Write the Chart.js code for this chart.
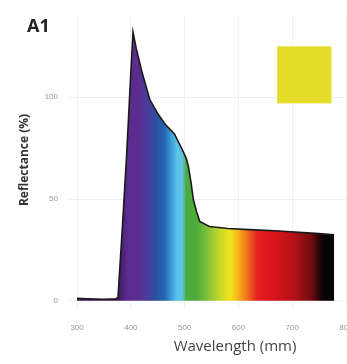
<!DOCTYPE html>
<html>
<head>
<meta charset="utf-8">
<script src="https://cdn.jsdelivr.net/npm/chart.js@4"></script>
<style>
  html, body { margin: 0; padding: 0; background: #fff; }
  #wrap { width: 347px; height: 364px; }
</style>
</head>
<body>
<div id="wrap"><canvas id="myChart" width="347" height="364"></canvas></div>
<script>
"use strict";

// spectrum
const wavelengths = [300, 320, 350, 372, 376, 384, 392, 398, 404, 410, 420, 435, 450, 463, 481, 496, 503, 507, 512, 516, 522, 528, 546, 580, 620, 676, 720, 750, 778];
const reflectance = [1.2, 1.0, 0.8, 1.0, 1.5, 35, 71, 102, 132, 124, 113, 99, 92, 87, 82, 74, 70, 66, 58, 50, 44, 39, 36.5, 35.5, 35, 34.3, 33.5, 33, 32.5];
const xTicks = [300, 400, 500, 600, 700, 800];
const yTicks = [0, 50, 100];

// colour of the fill per wavelength
const stopNm = [376, 392, 412, 432, 445, 462, 474, 486, 496, 503, 524, 546, 566, 585, 600, 615, 635, 670, 705, 735, 752, 762];
const stopColors = ["#3b1a5c", "#5a2a8c", "#5e2c90", "#4a3c9c", "#2d4ea0", "#2363b0", "#3a98d4", "#5ac4ec", "#62c4dc", "#4aaa3c", "#4fae38", "#8cc43a", "#c9d82a", "#f1e31a", "#f6b21a", "#f0781c", "#e61e1e", "#d6141a", "#b01218", "#720c0e", "#220404", "#050505"];

// swatch in the top right corner
const swatchNm = [672, 773];
const swatchPct = [97, 125];
const swatchColor = "#e6dc2a";

const data = wavelengths.map((w, i) => ({ x: w, y: reflectance[i] }));

function spectrumFill(context) {
  const chart = context.chart;
  const area = chart.chartArea;
  if (!area) return "#5e2c90";
  const xs = chart.scales.x;
  const x0 = xs.getPixelForValue(300);
  const x1 = xs.getPixelForValue(800);
  const g = chart.ctx.createLinearGradient(x0, 0, x1, 0);
  stopNm.forEach((nm, i) => {
    g.addColorStop((nm - 300) / 500, stopColors[i]);
  });
  return g;
}

const decorations = {
  id: "decorations",
  beforeDatasetsDraw(chart) {
    const ctx = chart.ctx;
    const xs = chart.scales.x, ys = chart.scales.y;
    const l = xs.getPixelForValue(swatchNm[0]), r = xs.getPixelForValue(swatchNm[1]);
    const t = ys.getPixelForValue(swatchPct[1]), b = ys.getPixelForValue(swatchPct[0]);
    ctx.save();
    ctx.fillStyle = swatchColor;
    ctx.fillRect(l, t, r - l, b - t);
    ctx.restore();
  },
  afterDraw(chart) {
    const ctx = chart.ctx;
    ctx.save();
    ctx.fillStyle = "#222";
    ctx.font = "bold 18px 'Open Sans', sans-serif";
    ctx.textBaseline = "middle";
    ctx.textAlign = "left";
    ctx.fillText("A1", 27, 27);

    ctx.fillStyle = "#444";
    ctx.font = "15px 'Open Sans', sans-serif";
    ctx.textAlign = "center";
    ctx.fillText("Wavelength (mm)", 235, 347);

    ctx.translate(25, 160);
    ctx.rotate(-Math.PI / 2);
    ctx.fillStyle = "#333";
    ctx.font = "bold 12px 'Open Sans', sans-serif";
    ctx.fillText("Reflectance (%)", 0, 0);
    ctx.restore();
  }
};

const ctx = document.getElementById("myChart").getContext("2d");
const myChart = new Chart(ctx, {
  type: "line",
  data: {
    datasets: [
      {
        label: "A1",
        data: data,
        borderColor: "#1a1a1a",
        borderWidth: 1.6,
        backgroundColor: spectrumFill,
        fill: "origin",
        pointRadius: 0,
        tension: 0,
      },
    ],
  },
  options: {
    responsive: false,
    animation: false,
    layout: { padding: { top: 11, right: 1, left: 0, bottom: 0 } },
    plugins: {
      legend: { display: false },
      tooltip: { enabled: false },
    },
    scales: {
      x: {
        type: "linear",
        min: 285,
        max: 800,
        afterBuildTicks: (axis) => { axis.ticks = xTicks.map((v) => ({ value: v })); },
        afterFit: (axis) => { axis.height = 55; axis.paddingLeft = 0; axis.paddingRight = 0; },
        grid: { color: "rgba(0,0,0,0.06)", drawTicks: false },
        border: { display: false },
        ticks: { color: "#999", font: { size: 8 }, padding: 14, maxRotation: 0 },
      },
      y: {
        min: -4,
        max: 140,
        afterBuildTicks: (axis) => { axis.ticks = yTicks.map((v) => ({ value: v })); },
        afterFit: (axis) => { axis.width = 69; },
        grid: { color: "rgba(0,0,0,0.06)", drawTicks: false },
        border: { display: false },
        ticks: { color: "#999", font: { size: 8 }, padding: 11 },
      },
    },
  },
  plugins: [decorations],
});
</script>
</body>
</html>
